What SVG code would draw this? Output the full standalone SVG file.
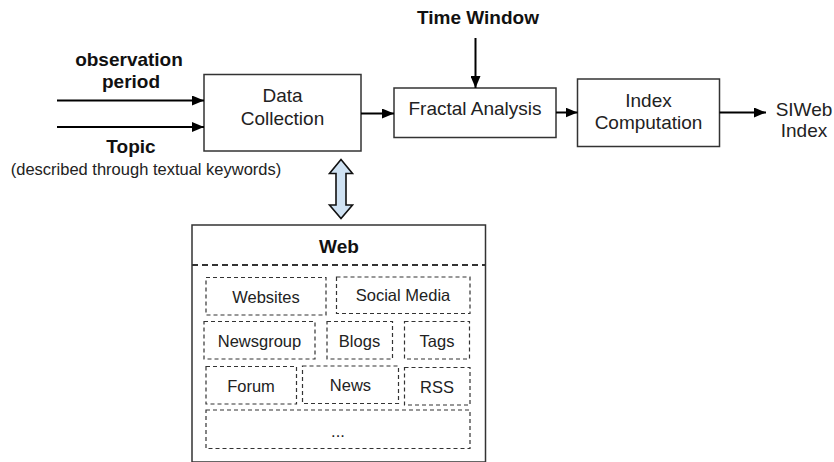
<svg xmlns="http://www.w3.org/2000/svg" width="834" height="462" viewBox="0 0 834 462">
<defs>
<marker id="ah" markerWidth="12" markerHeight="10" refX="12" refY="5" orient="auto" markerUnits="userSpaceOnUse">
<path d="M0,0 L12,5 L0,10 Z" fill="#000"/>
</marker>
<style>
.box{fill:#fff;stroke:#333;stroke-width:1.5}
.dbox{fill:#fff;stroke:#333;stroke-width:1.2;stroke-dasharray:4,3}
.t{font-family:"Liberation Sans",Arial,sans-serif;font-size:19px;fill:#222;text-anchor:middle}
.s{font-family:"Liberation Sans",Arial,sans-serif;font-size:16.5px;fill:#222;text-anchor:middle}
.b{font-family:"Liberation Sans",Arial,sans-serif;font-size:19px;font-weight:bold;fill:#111;text-anchor:middle}
.c{stroke:#000;stroke-width:2;fill:none;marker-end:url(#ah)}
</style>
</defs>
<rect width="834" height="462" fill="#fff"/>
<g id="labels">
<text class="b" x="129" y="66">observation</text>
<text class="b" x="131" y="88">period</text>
<text class="b" x="131" y="153">Topic</text>
<text class="s" x="146" y="175">(described through textual keywords)</text>
<text class="b" x="478" y="24">Time Window</text>
</g>
<g id="data-collection">
<rect class="box" x="204" y="74.5" width="157" height="76.5"/>
<text class="t" x="282.5" y="101.5">Data</text>
<text class="t" x="282.5" y="125">Collection</text>
</g>
<g id="fractal-analysis">
<rect class="box" x="394" y="88" width="162" height="49.5"/>
<text class="t" x="475" y="115">Fractal Analysis</text>
</g>
<g id="index-computation">
<rect class="box" x="577.5" y="79" width="142" height="67.5"/>
<text class="t" x="648.5" y="106.5">Index</text>
<text class="t" x="648.5" y="128.5">Computation</text>
</g>
<g id="siweb-index">
<text class="t" x="804" y="116">SIWeb</text>
<text class="t" x="804" y="137">Index</text>
</g>
<g id="web">
<rect class="box" x="192" y="225" width="293.5" height="237"/>
<line x1="192" y1="265" x2="485.5" y2="265" stroke="#333" stroke-width="1.8" stroke-dasharray="6,4"/>
<text class="b" x="339" y="252.5">Web</text>
<g id="websites"><rect class="dbox" x="206" y="277.5" width="120" height="37.5"/><text class="s" x="266" y="302.5">Websites</text></g>
<g id="social-media"><rect class="dbox" x="336.5" y="277" width="133.5" height="36.5"/><text class="s" x="403" y="301">Social Media</text></g>
<g id="newsgroup"><rect class="dbox" x="204" y="321.5" width="111" height="37.5"/><text class="s" x="259.5" y="347">Newsgroup</text></g>
<g id="blogs"><rect class="dbox" x="327" y="321.5" width="65.5" height="37.5"/><text class="s" x="359.5" y="347">Blogs</text></g>
<g id="tags"><rect class="dbox" x="404.5" y="321.5" width="65" height="37.5"/><text class="s" x="437" y="347">Tags</text></g>
<g id="forum"><rect class="dbox" x="206" y="366.5" width="90.5" height="37.5"/><text class="s" x="251" y="391.5">Forum</text></g>
<g id="news"><rect class="dbox" x="302.5" y="366" width="96" height="37.5"/><text class="s" x="350.5" y="391">News</text></g>
<g id="rss"><rect class="dbox" x="404.5" y="367.5" width="65.5" height="37.5"/><text class="s" x="437" y="392.5">RSS</text></g>
<g id="more"><rect class="dbox" x="206" y="410" width="264" height="38.5"/><text class="s" x="338" y="436.5">...</text></g>
</g>
<g id="connectors">
<line class="c" x1="57" y1="100.5" x2="204" y2="100.5"/>
<line class="c" x1="57" y1="127" x2="204" y2="127"/>
<line class="c" x1="361" y1="113.5" x2="394" y2="113.5"/>
<line class="c" x1="475.5" y1="38" x2="475.5" y2="88"/>
<line class="c" x1="556" y1="112.5" x2="577.5" y2="112.5"/>
<line class="c" x1="719.5" y1="112.5" x2="766" y2="112.5"/>
<path d="M341,159.5 L352.5,173.5 L346,173.5 L346,205 L352.5,205 L341,218.5 L329.5,205 L336,205 L336,173.5 L329.5,173.5 Z" fill="#cfe2f3" stroke="#111" stroke-width="1.6" stroke-linejoin="miter"/>
</g>
</svg>
